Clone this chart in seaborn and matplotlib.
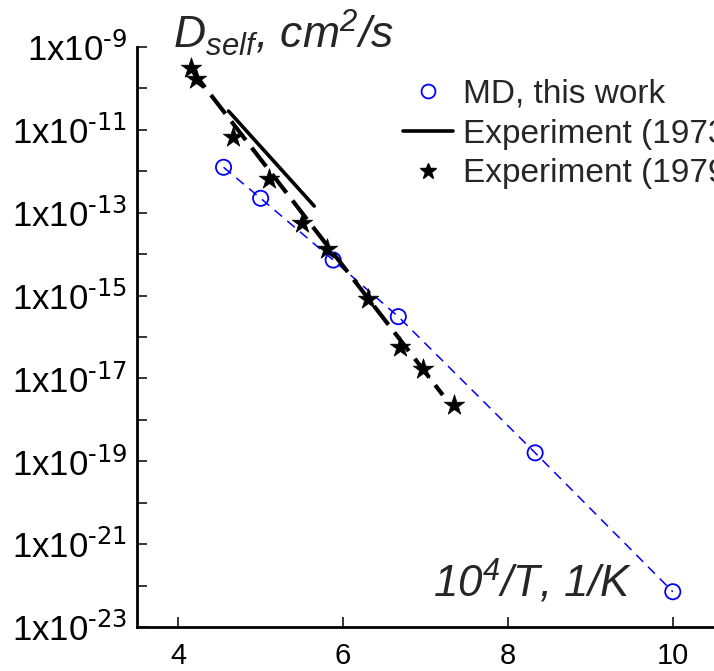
import numpy as np
import pandas as pd
import matplotlib
matplotlib.use("Agg")
import matplotlib.pyplot as plt
import matplotlib.ticker as mticker
from matplotlib.lines import Line2D
import seaborn as sns

# ---- data ----
md_x = [4.55, 5.00, 5.88, 6.67, 8.33, 10.00]
md_D = [1.25e-12, 2.23e-13, 7.2e-15, 3.1e-16, 1.6e-19, 7.1e-23]

exp1979_x = [4.15, 4.22, 4.67, 5.10, 5.50, 5.81, 6.30, 6.69, 6.97, 7.35]
exp1979_D = [3.06e-10, 1.66e-10, 6.84e-12, 6.41e-13, 5.56e-14, 1.31e-14,
             8.1e-16, 5.83e-17, 1.66e-17, 2.29e-18]

fit1979_x = [4.15, 7.21]
fit1979_D = [3.0e-10, 3.98e-18]

exp1973_x = [4.61, 5.65]
exp1973_D = [2.85e-11, 1.45e-13]

labels = ["MD, this work", "Experiment (1973)", "Experiment (1979)"]
y_exponents = list(range(-23, -8))
x_ticks = [4, 6, 8, 10]

# ---- style ----
sns.set_style("white")
plt.rcParams["font.family"] = ["Liberation Sans", "DejaVu Sans"]
plt.rcParams["mathtext.default"] = "regular"
plt.rcParams["lines.scale_dashes"] = False

fig = plt.figure(figsize=(7.14, 6.71), dpi=100)
ax = fig.add_axes([137 / 714, 44 / 671, 1 - 137 / 714, 580 / 671])

md = pd.DataFrame({"x": md_x, "D": md_D})
e79 = pd.DataFrame({"x": exp1979_x, "D": exp1979_D})
f79 = pd.DataFrame({"x": fit1979_x, "D": fit1979_D})
e73 = pd.DataFrame({"x": exp1973_x, "D": exp1973_D})

ax.set_yscale("log")

# MD: blue dashed line + open circles
sns.lineplot(data=md, x="x", y="D", ax=ax, color="#0000ff", lw=1.1,
             linestyle=(0, (7, 5)), sort=False, estimator=None, zorder=2)
sns.scatterplot(data=md, x="x", y="D", ax=ax, marker="o", s=120,
                facecolors="none", edgecolor="#0000ff", linewidth=1.3,
                zorder=3)

# 1979 fit (long dash) and 1973 solid line
sns.lineplot(data=f79, x="x", y="D", ax=ax, color="black", lw=3.0,
             linestyle=(0, (17, 7)), sort=False, estimator=None, zorder=4)
sns.lineplot(data=e73, x="x", y="D", ax=ax, color="black", lw=2.6,
             sort=False, estimator=None, zorder=4)

# 1979 stars
sns.scatterplot(data=e79, x="x", y="D", ax=ax, marker="*", s=240,
                color="black", edgecolor="black", linewidth=0.5, zorder=5)

# ---- legend (clipped at the right edge, as in the reference) ----
handles = [
    Line2D([], [], ls="none", marker="o", ms=10, mfc="none", mec="#0000ff", mew=1.3),
    Line2D([], [], color="black", lw=2.6),
    Line2D([], [], ls="none", marker="*", ms=12, color="black"),
]
ax.legend(handles, labels, loc="upper left", bbox_to_anchor=(0.461, 0.945),
          frameon=False, fontsize=24, handlelength=1.5, handletextpad=0.3,
          labelspacing=0.26, borderpad=0, borderaxespad=0)

# ---- axes ----
ax.set_xlim(3.5, 10.5)
ax.set_ylim(1e-23, 1e-9)
ax.xaxis.set_major_locator(mticker.FixedLocator(x_ticks))
ax.yaxis.set_major_locator(mticker.FixedLocator([10.0 ** e for e in y_exponents]))


def yfmt(v, pos):
    e = int(round(np.log10(v)))
    if e % 2 != 0:
        return r"1x10$^{\text{-%d}}$" % abs(e)
    return ""


ax.yaxis.set_major_formatter(mticker.FuncFormatter(yfmt))
ax.yaxis.set_minor_locator(mticker.LogLocator(base=10, subs=np.arange(2, 10), numticks=100))
ax.yaxis.set_minor_formatter(mticker.NullFormatter())

ax.tick_params(axis="both", which="major", direction="in", length=7, width=1.1,
               colors="black")
ax.tick_params(axis="y", which="minor", direction="in", length=4, width=1.0)
ax.tick_params(axis="y", which="major", pad=7, left=True, labelsize=25)
ax.tick_params(axis="x", which="major", pad=11, bottom=True, labelsize=21)

for s in ["top", "right"]:
    ax.spines[s].set_visible(False)
for s in ["left", "bottom"]:
    ax.spines[s].set_linewidth(2.0)
    ax.spines[s].set_color("black")

ax.set_xlabel("")
ax.set_ylabel("")

fig.text(173 / 714, (671 - 48) / 671, "D$_{self}$, cm$^{2}$/s", fontsize=32,
         fontstyle="italic", ha="left", va="baseline")
fig.text(433 / 714, (671 - 597) / 671, "10$^{4}$/T, 1/K", fontsize=31.5,
         fontstyle="italic", ha="left", va="baseline")

fig.savefig("out.png", dpi=100)
